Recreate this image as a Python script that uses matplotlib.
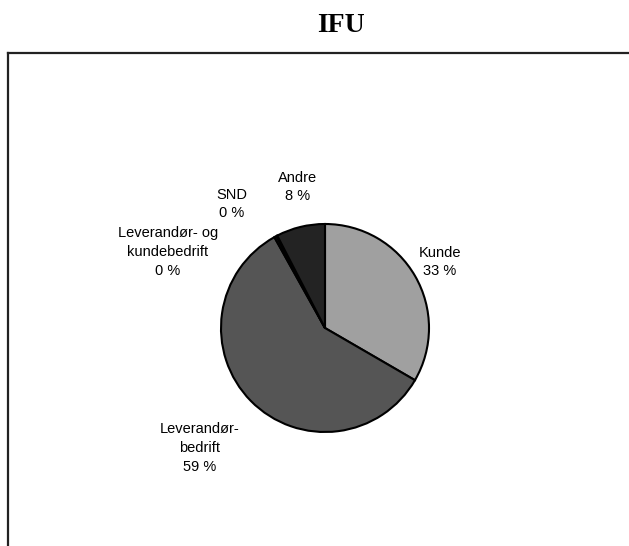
import matplotlib.pyplot as plt

# data
labels = ['Kunde', 'Leverandørbedrift', 'Leverandør- og kundebedrift', 'SND', 'Andre']
label_text = ['Kunde\n33 %', 'Leverandør-\nbedrift\n59 %', 'Leverandør- og\nkundebedrift\n0 %', 'SND\n0 %', 'Andre\n8 %']
values = [33.4, 58.6, 0.4, 0.1, 7.6]
colors = ['#a0a0a0', '#555555', '#111111', '#000000', '#232323']

W, H = 629, 546
fig = plt.figure(figsize=(W / 100, H / 100), dpi=100)
ax = fig.add_axes([0, 0, 1, 1])

# pie, centre and radius in pixel units (y measured from the bottom)
cx, cy, r = 325, H - 328, 104
ax.pie(values, colors=colors, startangle=90, counterclock=False,
       center=(cx, cy), radius=r,
       wedgeprops=dict(edgecolor='black', linewidth=1.5))

# label positions (image pixels, from top)
label_pos = [(440, 262), (200, 448), (168, 252), (232, 204), (298, 187)]
for txt, (x, y) in zip(label_text, label_pos):
    ax.text(x, H - y, txt, ha='center', va='center', fontsize=10.5,
            family='Liberation Sans', linespacing=1.45)

# frame (clipped on right and bottom)
ax.plot([7.5, 7.5], [0, H - 52.5], color='#222222', lw=1.6, solid_capstyle='projecting')
ax.plot([7.5, W], [H - 52.5, H - 52.5], color='#222222', lw=1.6, solid_capstyle='projecting')

ax.text(341, H - 25.5, 'IFU', ha='center', va='center', fontsize=20,
        family='Liberation Serif', fontweight='bold')

ax.set_xlim(0, W)
ax.set_ylim(0, H)
ax.set_aspect('auto')
ax.axis('off')

plt.savefig('out.png', dpi=100)
